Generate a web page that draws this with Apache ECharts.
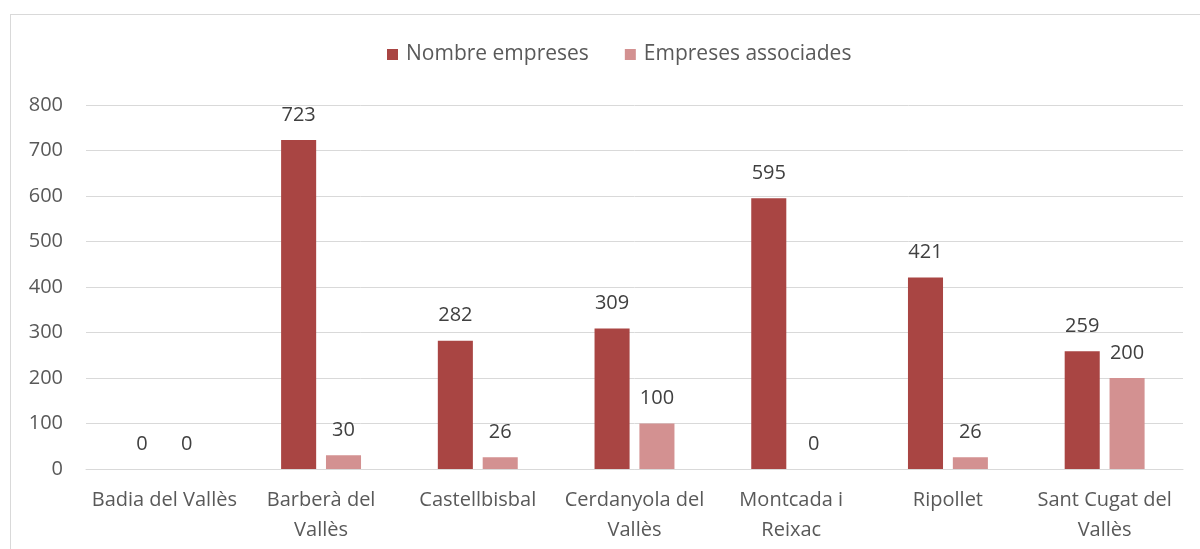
<!DOCTYPE html>
<html><head><meta charset="utf-8">
<script src="https://cdn.jsdelivr.net/npm/echarts@6/dist/echarts.min.js"></script>
<style>
html,body{margin:0;padding:0;background:#fff;}
#frame{position:absolute;left:10px;top:14px;width:1200px;height:560px;border:1px solid #d9d9d9;box-sizing:border-box;}
#c{position:absolute;left:0;top:0;width:1200px;height:549px;}
</style></head>
<body><div id="frame"></div><div id="c"></div>
<script>
const categories = ['Badia del Vallès','Barberà del\nVallès','Castellbisbal','Cerdanyola del\nVallès','Montcada i\nReixac','Ripollet','Sant Cugat del\nVallès'];
const seriesNames = ['Nombre empreses','Empreses associades'];
const nombreEmpreses = [0,723,282,309,595,421,259];
const empresesAssociades = [0,30,26,100,0,26,200];
const yTicks = {min:0,max:800,interval:100};

const font = '"Open Sans", Lato, sans-serif';
const fs = 20;
const chart = echarts.init(document.getElementById('c'), null, {renderer:'canvas'});
const labelStyle = {show:true, position:'top', distance:15, color:'#404040', fontSize:fs, fontFamily:font};
chart.setOption({
  animation:false,
  textStyle:{fontFamily:font},
  legend:{top:39, left:382, itemWidth:11, itemHeight:11, itemGap:36,
    icon:'rect',
    textStyle:{color:'#595959', fontSize:21, fontFamily:font, padding:[0,0,0,3]},
    data:seriesNames},
  grid:{left:86, right:17, top:105, bottom:80, containLabel:false},
  xAxis:{type:'category', data:categories,
    axisLine:{show:true, lineStyle:{color:'#d9d9d9', width:1}},
    axisTick:{show:false},
    axisLabel:{color:'#595959', fontSize:fs, fontFamily:font, margin:16, lineHeight:30, interval:0}},
  yAxis:{type:'value', min:yTicks.min, max:yTicks.max, interval:yTicks.interval,
    axisLine:{show:false}, axisTick:{show:false},
    splitLine:{lineStyle:{color:'#d9d9d9', width:1}},
    axisLabel:{color:'#595959', fontSize:fs, fontFamily:font, margin:23}},
  series:[
    {name:seriesNames[0], type:'bar', data:nombreEmpreses, barGap:'28%', barCategoryGap:'49%',
     itemStyle:{color:'#A94543'}, label:labelStyle},
    {name:seriesNames[1], type:'bar', data:empresesAssociades,
     itemStyle:{color:'#D39191'}, label:labelStyle}
  ]
});
</script></body></html>
